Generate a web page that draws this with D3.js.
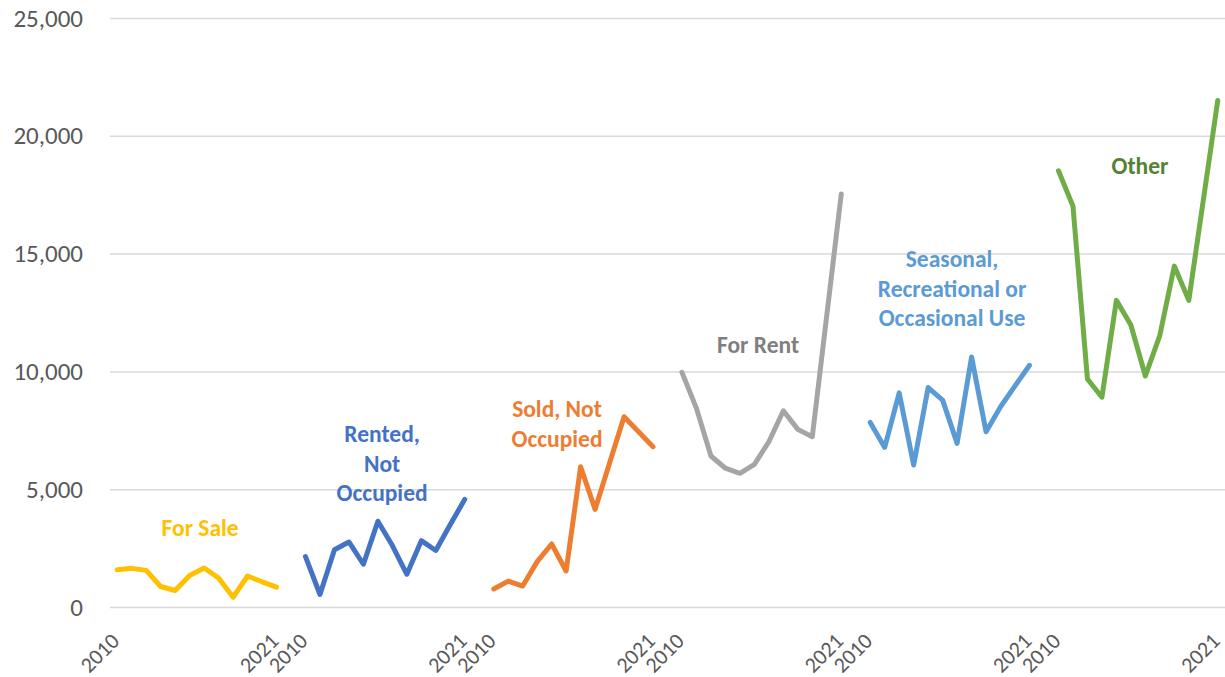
<!DOCTYPE html>
<html>
<head>
<meta charset="utf-8">
<script src="https://cdnjs.cloudflare.com/ajax/libs/d3/7.8.5/d3.min.js"></script>
<style>
  body { margin: 0; background: #fff; }
  svg { display: block; font-family: Calibri, Carlito, Lato, sans-serif; }
  .axis text { fill: #595959; font-family: Calibri, Carlito, Lato, sans-serif; }
  .axis .domain { display: none; }
  .grid line { stroke: #d9d9d9; stroke-width: 1.5; }
</style>
</head>
<body>
<div id="chart"></div>
<script>

var years = [2010, 2011, 2012, 2013, 2014, 2015, 2016, 2017, 2018, 2019, 2020, 2021];

var forSale    = [1585, 1640, 1555, 870, 700, 1340, 1655, 1230, 415, 1315, 1070, 845];
var rented     = [2140, 530, 2430, 2760, 1815, 3640, 2610, 1390, 2815, 2400, 3500, 4570];
var sold       = [765, 1100, 890, 1925, 2675, 1530, 5955, 4145, 6110, 8075, 7440, 6805];
var forRent    = [9960, 8430, 6410, 5890, 5675, 6055, 7015, 8330, 7540, 7230, 12380, 17530];
var seasonal   = [7835, 6775, 9090, 6030, 9315, 8780, 6945, 10615, 7440, 8500, 9385, 10260];
var other      = [18515, 17015, 9680, 8905, 13015, 11970, 9805, 11530, 14470, 13015, 17260, 21500];

var seriesNames  = ["For Sale", "Rented, Not Occupied", "Sold, Not Occupied", "For Rent",
                    "Seasonal, Recreational or Occasional Use", "Other"];
var seriesValues = [forSale, rented, sold, forRent, seasonal, other];
var lineColors   = ["#ffc000", "#4472c4", "#ed7d31", "#a5a5a5", "#5b9bd5", "#70ad47"];
var labelColors  = ["#ffc000", "#4472c4", "#ed7d31", "#7f7f7f", "#5b9bd5", "#548235"];

// label text split in lines, anchored in data units (year offset inside group, value of first line)
var labelLines  = [["For Sale"], ["Rented,", "Not", "Occupied"], ["Sold, Not", "Occupied"],
                   ["For Rent"], ["Seasonal,", "Recreational or", "Occasional Use"], ["Other"]];
var labelOffset = [5.72, 5.29, 4.37, 5.25, 5.65, 5.63];
var labelValue  = [3350, 7340, 8400, 11120, 14770, 18720];

var yTicks = [0, 5000, 10000, 15000, 20000, 25000];

var W = 1225, H = 677;
var plot = {left: 110, right: 1225, top: 18, bottom: 607};
var groupSize = years.length + 1;   // one empty category between groups
var nCats = groupSize * seriesValues.length - 1;

var svg = d3.select("#chart").append("svg")
            .attr("width", W)
            .attr("height", H);

var XScale = d3.scaleBand().domain(d3.range(nCats)).range([plot.left, plot.right]);
var step = XScale.step();
function xPos(i) { return XScale(i) + step / 2; }

var YScale = d3.scaleLinear().domain([0, 25000]).range([plot.bottom, plot.top]);

// grid + y axis
var YAxis = d3.axisLeft(YScale)
              .tickValues(yTicks)
              .tickFormat(d3.format(","))
              .tickSize(-(plot.right - plot.left))
              .tickPadding(27);

svg.append("g")
   .attr("class", "axis grid")
   .attr("transform", "translate(" + plot.left + ",0)")
   .call(YAxis)
   .attr("font-family", null)
   .selectAll("text")
   .style("font-size", "25px");

// x axis: only first and last year of every group
var xTickIdx = [];
seriesValues.forEach(function (s, g) {
  xTickIdx.push(g * groupSize);
  xTickIdx.push(g * groupSize + years.length - 1);
});

svg.append("g")
   .attr("class", "axis")
   .selectAll("text")
   .data(xTickIdx)
   .enter().append("text")
   .attr("transform", function (d) { return "translate(" + (xPos(d) - 2) + ",637) rotate(-45)"; })
   .attr("text-anchor", "end")
   .attr("dy", "0.35em")
   .style("font-size", "22px")
   .text(function (d) { return years[d % groupSize]; });

// lines
var line = d3.line()
             .x(function (d) { return xPos(d.i); })
             .y(function (d) { return YScale(d.v); })
             .curve(d3.curveLinear);

seriesValues.forEach(function (vals, g) {
  var pts = vals.map(function (v, j) { return {i: g * groupSize + j, v: v}; });
  svg.append("path")
     .datum(pts)
     .attr("d", line)
     .attr("fill", "none")
     .attr("stroke", lineColors[g])
     .attr("stroke-width", 5)
     .attr("stroke-linejoin", "round")
     .attr("stroke-linecap", "round");
});

// series labels
labelLines.forEach(function (lines, g) {
  var x = xPos(g * groupSize) + labelOffset[g] * step;
  var y = YScale(labelValue[g]);
  var t = svg.append("text")
             .attr("x", x)
             .attr("y", y)
             .attr("text-anchor", "middle")
             .attr("fill", labelColors[g])
             .style("font-size", "23.5px")
             .style("font-weight", "bold");
  lines.forEach(function (s, k) {
    t.append("tspan")
     .attr("x", x)
     .attr("y", y + k * 29.5)
     .attr("dy", "0.35em")
     .text(s);
  });
});

</script>
</body>
</html>
